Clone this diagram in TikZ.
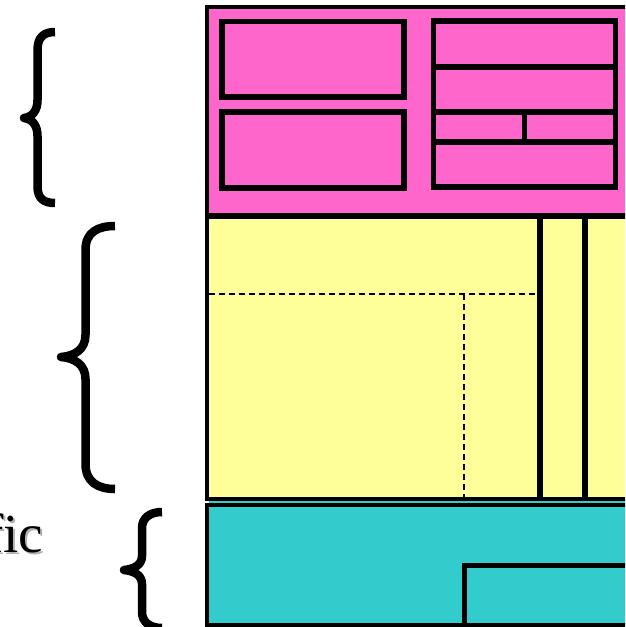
\documentclass[tikz,border=0pt]{standalone}
\usepackage{fontspec}
\newfontfamily\labelfont[Ligatures=NoCommon]{Liberation Serif}
\definecolor{pinkfill}{HTML}{FF66CC}
\definecolor{yellowfill}{HTML}{FFFF99}
\definecolor{cyanfill}{HTML}{33CCCC}
\tikzset{
  region/.style={draw=black, line width=4.5pt},
  innerbox/.style={draw=black, line width=5.5pt},
  divider/.style={draw=black, line width=6pt},
  dashline/.style={draw=black, line width=2pt, dash pattern=on 6pt off 4pt},
  bracestroke/.style={draw=black, line width=8.5pt, line join=round, line cap=butt},
  labeltext/.style={font=\labelfont\fontsize{55}{60}\selectfont, anchor=base west, inner sep=0pt}
}
\begin{document}
\begin{tikzpicture}[x=1pt,y=-1pt]
\useasboundingbox (0,0) rectangle (625,627);
\clip (0,0) rectangle (625,627);
% seam between yellow and cyan regions
\fill[cyanfill] (209,499) rectangle (660,505);
% regions
\filldraw[region, fill=pinkfill] (207,7) rectangle (660,215);
\filldraw[region, fill=yellowfill] (207,217) rectangle (660,499);
\filldraw[region, fill=cyanfill] (207,505) rectangle (660,625);
% pink inner boxes
\draw[innerbox] (222,21.5) rectangle (404,97);
\draw[innerbox] (222,112) rectangle (404,188);
\draw[innerbox] (433.7,21) rectangle (615.3,187);
\draw[innerbox] (433.7,67) -- (615.3,67);
\draw[innerbox] (433.7,112) -- (615.3,112);
\draw[innerbox] (433.7,142) -- (615.3,142);
\draw[innerbox] (524.7,112) -- (524.7,142);
% yellow dividers
\draw[divider] (539.7,217) -- (539.7,499);
\draw[divider] (585,217) -- (585,499);
\draw[dashline] (209,294) -- (535,294);
\draw[dashline] (464,294) -- (464,497);
% cyan inner box
\draw[innerbox] (464.7,660) -- (464.7,565.7) -- (660,565.7);
% braces
\draw[bracestroke] (55,32) .. controls (44,32) and (37.5,37) .. (37.5,50) -- (37.5,100)
  .. controls (37.5,111) and (32,117) .. (24,118)
  .. controls (32,119) and (37.5,125) .. (37.5,136) -- (37.5,186)
  .. controls (37.5,199) and (44,203) .. (55,203);
\draw[bracestroke] (115,226) .. controls (98,226) and (85.5,232) .. (85.5,250) -- (85.5,335)
  .. controls (85.5,349) and (75,356) .. (61,357)
  .. controls (75,358) and (85.5,365) .. (85.5,379) -- (85.5,464)
  .. controls (85.5,482) and (98,489) .. (115,489);
\draw[bracestroke] (162,512) .. controls (150,512) and (142,518) .. (142,528) -- (142,556)
  .. controls (142,565) and (134,569) .. (124,570)
  .. controls (134,571) and (142,575) .. (142,584) -- (142,612)
  .. controls (142,622) and (150,628) .. (162,628);
% label with shadow
\node[labeltext, text=black!30] (ficshadow) at (-13,554) {fic};
\node[labeltext] (fic) at (-15,552) {fic};
\end{tikzpicture}
\end{document}
